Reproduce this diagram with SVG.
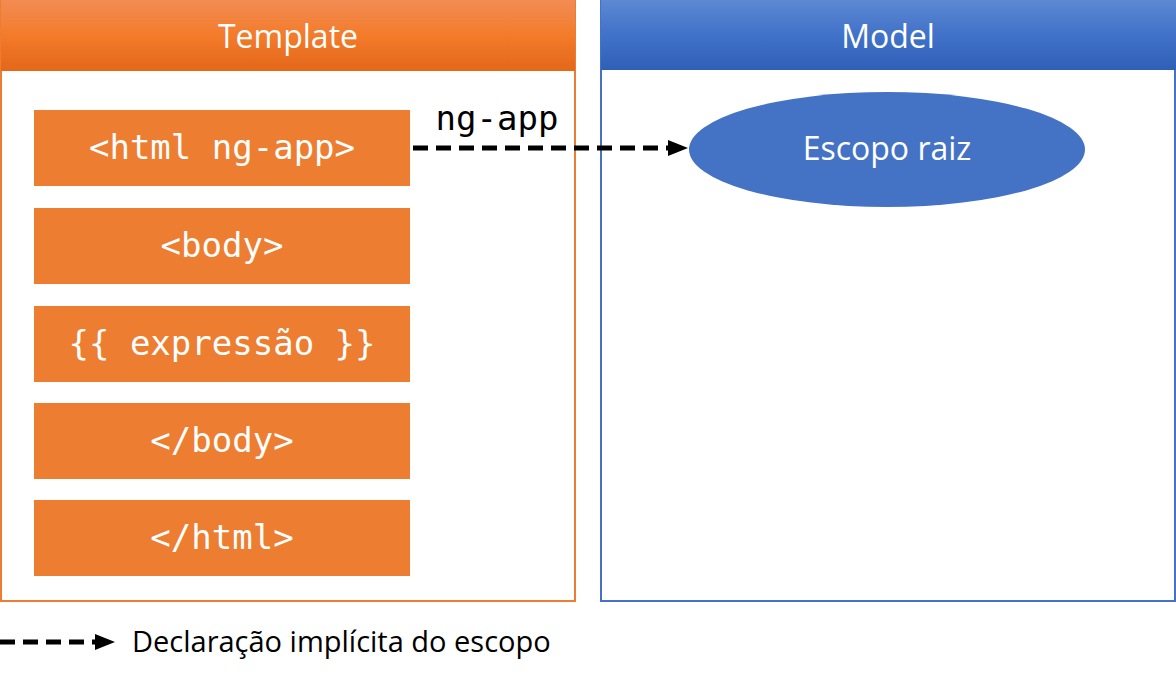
<svg xmlns="http://www.w3.org/2000/svg" width="1176" height="682" viewBox="0 0 1176 682">
<style>
.hdr{font-family:"Open Sans","Noto Sans",sans-serif;font-size:32px;fill:#fff;text-anchor:middle}
.code{font-family:"DejaVu Sans Mono","Liberation Mono",monospace;font-size:34px;fill:#fff;text-anchor:middle}
.box{fill:#ed7d31}
.conn{stroke:#000;stroke-width:5;stroke-dasharray:15 8;fill:none}
</style>
<defs>
<linearGradient id="og" x1="0" y1="0" x2="0" y2="1">
<stop offset="0" stop-color="#f28c54"/><stop offset="0.5" stop-color="#f37b2a"/><stop offset="1" stop-color="#e4671a"/>
</linearGradient>
<linearGradient id="bg" x1="0" y1="0" x2="0" y2="1">
<stop offset="0" stop-color="#5d88d2"/><stop offset="0.5" stop-color="#4172c9"/><stop offset="1" stop-color="#2f60b6"/>
</linearGradient>
<marker id="ah" markerWidth="4" markerHeight="3.2" refX="4" refY="1.6" orient="auto" markerUnits="strokeWidth">
<path d="M0,0 L4,1.6 L0,3.2 Z" fill="#000"/>
</marker>
</defs>
<g id="template">
<rect x="1" y="1" width="574" height="600" fill="#fff" stroke="#ed7d31" stroke-width="2"/>
<rect x="1" y="0" width="574" height="71" fill="url(#og)"/>
<text class="hdr" x="288" y="48">Template</text>
</g>
<g id="model">
<rect x="601" y="1" width="574" height="600" fill="#fff" stroke="#4472c4" stroke-width="2"/>
<rect x="601" y="0" width="575" height="70" fill="url(#bg)"/>
<text class="hdr" x="888" y="48">Model</text>
</g>
<g id="n-html"><rect class="box" x="34" y="110" width="376" height="76"/><text class="code" x="222" y="159">&lt;html ng-app&gt;</text></g>
<g id="n-body"><rect class="box" x="34" y="208" width="376" height="76"/><text class="code" x="222" y="257">&lt;body&gt;</text></g>
<g id="n-expr"><rect class="box" x="34" y="306" width="376" height="76"/><text class="code" x="222" y="355">{{ expressão }}</text></g>
<g id="n-ebody"><rect class="box" x="34" y="403" width="376" height="76"/><text class="code" x="222" y="452">&lt;/body&gt;</text></g>
<g id="n-ehtml"><rect class="box" x="34" y="500" width="376" height="76"/><text class="code" x="222" y="549">&lt;/html&gt;</text></g>
<g id="n-escopo"><ellipse cx="887" cy="149.5" rx="198" ry="57.5" fill="#4472c4"/><text class="hdr" x="887" y="160">Escopo raiz</text></g>
<g id="connectors">
<line class="conn" x1="413" y1="148" x2="688" y2="148" marker-end="url(#ah)"/>
<text x="497" y="130" font-family="DejaVu Sans Mono,Liberation Mono,monospace" font-size="34" fill="#000" text-anchor="middle">ng-app</text>
</g>
<g id="legend">
<line class="conn" x1="0" y1="642" x2="115" y2="642" marker-end="url(#ah)" stroke-dasharray="18 8"/>
<text x="132" y="652" font-family="Open Sans,Noto Sans,sans-serif" font-size="29" fill="#000">Declaração implícita do escopo</text>
</g>
</svg>
